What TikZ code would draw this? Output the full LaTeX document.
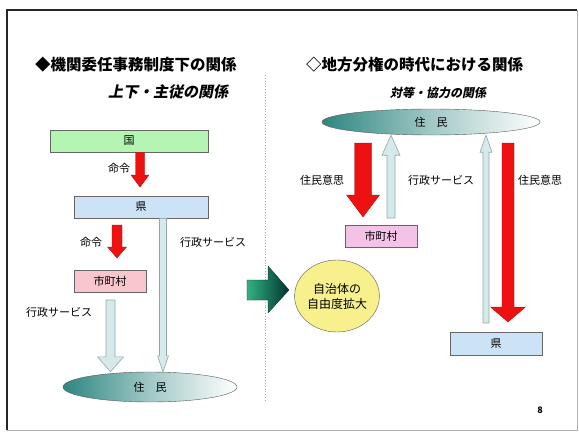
\documentclass[tikz,border=0pt]{standalone}
\usepackage{fontspec}
\setmainfont{Noto Sans CJK JP}
\newfontfamily\jpsl[FakeSlant=0.2]{Noto Sans CJK JP}
\usetikzlibrary{shapes.geometric,calc}
\definecolor{kunigreen}{HTML}{B4F5B4}
\definecolor{kenblue}{HTML}{CCE2F7}
\definecolor{shipink}{HTML}{F8C6CC}
\definecolor{shimagenta}{HTML}{F4C2E6}
\definecolor{arrred}{HTML}{EE1111}
\definecolor{palefill}{HTML}{D6EAEC}
\definecolor{paleline}{HTML}{8FA8AC}
\definecolor{tealdark}{HTML}{2E8680}
\definecolor{jiyellow}{HTML}{F7F08C}
% block arrow: style, from, to, shaft half, head half, head length
\newcommand{\blockarr}[6]{%
  \draw[#1] let \p1=#2, \p2=#3, \n1={\y2-sign(\y2-\y1)*#6} in
    (\x1-#4,\y1) -- (\x1-#4,{\n1*1pt}) -- (\x1-#5,{\n1*1pt}) -- (\x2,\y2)
    -- (\x1+#5,{\n1*1pt}) -- (\x1+#4,{\n1*1pt}) -- (\x1+#4,\y1) -- cycle;
}
\tikzset{
  title/.style={font=\fontsize{15.5}{16}\selectfont\bfseries, anchor=west, inner sep=0},
  subtitle/.style={font=\jpsl\fontsize{15}{16}\selectfont\bfseries, anchor=west, inner sep=0},
  label/.style={font=\fontsize{11}{12}\selectfont, anchor=west, inner sep=0},
  box/.style={draw=gray!80!black, line width=0.8pt, inner sep=0, font=\fontsize{11}{12}\selectfont},
  jumin/.style={ellipse, draw=gray!70!black, inner sep=0, font=\fontsize{11}{12}\selectfont,
    left color=tealdark, right color=white, middle color=tealdark!45!white},
  redarr/.style={fill=arrred, draw=arrred!70!black, line width=0.3pt},
  palearr/.style={fill=palefill, draw=paleline, line width=0.6pt},
}
\begin{document}
\begin{tikzpicture}[x=1pt,y=-1pt]
\useasboundingbox (0,0) rectangle (579,434);
% frame
\draw[gray!60, line width=0.8pt] (7,10) rectangle (577,430);
\draw[gray!30!black, line width=1.5pt] (7,430) -- (7,10) -- (577,10);
\draw[gray!70, dotted, line width=0.8pt] (265,75) -- (265,402);

% left side
\node[title] (ltitle) at (35,65) {◆機関委任事務制度下の関係};
\node[subtitle] (lsub) at (108,92) {上下・主従の関係};
\node[box, fill=kunigreen, minimum width=158pt, minimum height=22pt] (kuni) at (129,141) {国};
\node[box, fill=kenblue, minimum width=134pt, minimum height=22pt] (ken) at (141,207) {県};
\node[box, fill=shipink, minimum width=72pt, minimum height=22pt] (shi) at (110,281) {市町村};
\node[jumin, minimum width=174pt, minimum height=30pt] (jumin) at (150,387) {住\quad 民};
\blockarr{redarr}{(kuni.south -| 140,0)}{(140,187)}{4.5pt}{9pt}{12pt}
\blockarr{redarr}{(117,225)}{(117,258)}{5pt}{9.5pt}{11pt}
\blockarr{palearr}{(110.5,300)}{(jumin.north -| 110.5,0)}{4.5pt}{13pt}{15pt}
\blockarr{palearr}{(ken.south -| 163,0)}{(jumin.north -| 163,0)}{3.5pt}{5.5pt}{16pt}
\node[label] (lmei1) at (108,168) {命令};
\node[label] (lmei2) at (80,242) {命令};
\node[label] (lgyo1) at (26,312) {行政サービス};
\node[label] (lgyo2) at (180,242) {行政サービス};

% change arrow
\shade[left color=teal!75!green!80!white, right color=teal!40!black, draw=teal!30!black, line width=0.3pt]
  (247,280) -- (268,280) -- (268,266) -- (289,290) -- (268,313) -- (268,300) -- (247,300) -- cycle;

% right side
\node[title] (rtitle) at (306,65) {◇地方分権の時代における関係};
\node[subtitle, font=\jpsl\fontsize{12}{13}\selectfont\bfseries] (rsub) at (390,93) {対等・協力の関係};
\node[jumin, minimum width=218pt, minimum height=26pt] (rjumin) at (431,122) {住\quad 民};
\node[box, fill=shimagenta, minimum width=72pt, minimum height=22pt] (rshi) at (381,236) {市町村};
\node[box, fill=kenblue, minimum width=92pt, minimum height=23pt] (rken) at (496,344) {県};
\node[ellipse, draw=gray!70!black, fill=jiyellow, minimum width=80pt, minimum height=72pt,
  inner sep=0, align=center, font=\fontsize{12}{15}\selectfont] (jiyu) at (337,296) {自治体の\\自由度拡大};
\blockarr{redarr}{(363,143)}{(363,217)}{8.5pt}{16.5pt}{22pt}
\blockarr{palearr}{(391,218)}{(rjumin.south -| 391,0)}{4pt}{9pt}{20pt}
\blockarr{palearr}{(486,323)}{(rjumin.south -| 486,0)}{3pt}{6pt}{17pt}
\blockarr{redarr}{(508,143)}{(508,322)}{6pt}{17.5pt}{15pt}
\node[label] (rjui1) at (300,180) {住民意思};
\node[label] (rgyo) at (408,180) {行政サービス};
\node[label] (rjui2) at (518,180) {住民意思};
\node[font=\fontsize{9}{10}\selectfont\bfseries, inner sep=0] (page) at (540,410) {8};
\end{tikzpicture}
\end{document}
